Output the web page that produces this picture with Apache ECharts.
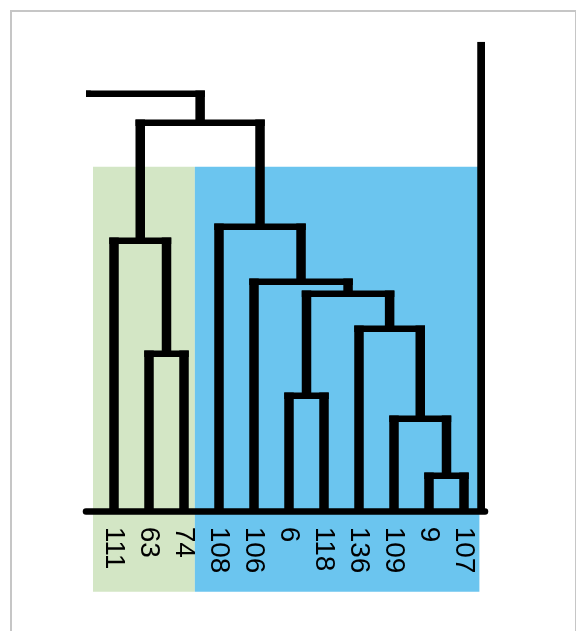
<!DOCTYPE html>
<html>
<head>
<meta charset="utf-8">
<title>Dendrogram</title>
<script src="https://cdn.jsdelivr.net/npm/echarts@6/dist/echarts.min.js"></script>
<style>
  html, body { margin: 0; padding: 0; background: #ffffff; }
  #wrap { position: relative; width: 576px; height: 631px; overflow: hidden; }
  #frame {
    position: absolute; left: 10px; top: 10px; width: 566px; height: 700px;
    border-left: 2px solid #c6c6c6; border-top: 2px solid #c6c6c6; border-right: 1.5px solid #c6c6c6;
    box-sizing: border-box;
  }
  #chart { position: absolute; left: 0; top: 0; width: 576px; height: 631px; }
</style>
</head>
<body>
<div id="wrap">
  <div id="frame"></div>
  <div id="chart"></div>
</div>
<script>
// Leaf labels, left to right
const leaves = ['111', '63', '74', '108', '106', '6', '118', '136', '109', '9', '107'];

// Agglomeration steps: ids 0..10 are leaves, each merge creates id 11, 12, ...
const mergeLeft   = [9,    8,    5,    1,    7,    13,   4,    0,    3,    18];
const mergeRight  = [10,   11,   6,    2,    12,   15,   16,   14,   17,   19];
const mergeHeight = [0.36, 0.93, 1.16, 1.58, 1.83, 2.18, 2.30, 2.71, 2.85, 3.89];

// Root join (its other branch runs off the left edge) and the outer stem on the right
const rootHeight = 4.18;
const stemHeight = 4.7;
const stemPosition = 10.5;

// Shaded cluster bands: [from, to] along the leaf axis; they reach down behind the labels
const bandNames  = ['A', 'B'];
const bandFrom   = [-0.6, 2.31];
const bandTo     = [2.31, 10.44];
const bandColors = ['#d3e6c5', '#6bc5ef'];
const bandTop = 3.45;
const bandBottom = -0.8;

const xMin = -0.8, xMax = 10.6, yMin = 0, yMax = 4.7;

// Positions of every node: leaves on integers, merges centred over their children
const nodeX = leaves.map((_, i) => i);
const nodeH = leaves.map(() => 0);
mergeLeft.forEach((l, k) => {
  const r = mergeRight[k];
  nodeX.push((nodeX[l] + nodeX[r]) / 2);
  nodeH.push(mergeHeight[k]);
});

// Link items: [xLeft, xRight, height, heightLeft, heightRight]
const links = mergeLeft.map((l, k) => {
  const r = mergeRight[k];
  return [nodeX[l], nodeX[r], mergeHeight[k], nodeH[l], nodeH[r]];
});
const lastNode = nodeX.length - 1;
links.push([xMin, nodeX[lastNode], rootHeight, rootHeight, nodeH[lastNode]]);

const VW = 9.5;  // vertical stroke width
const HW = 6.5;  // horizontal stroke width

function renderLink(params, api) {
  const xl = api.value(0), xr = api.value(1), h = api.value(2);
  const hl = api.value(3), hr = api.value(4);
  const pl = api.coord([xl, h]);
  const pr = api.coord([xr, h]);
  const pl0 = api.coord([xl, hl]);
  const pr0 = api.coord([xr, hr]);
  const style = { fill: '#000000' };
  return {
    type: 'group',
    children: [
      { type: 'rect', shape: { x: pl[0] - VW / 2, y: pl[1] - HW / 2, width: pr[0] - pl[0] + VW, height: HW }, style },
      { type: 'rect', shape: { x: pl[0] - VW / 2, y: pl[1] - HW / 2, width: VW, height: pl0[1] - pl[1] + HW / 2 }, style },
      { type: 'rect', shape: { x: pr[0] - VW / 2, y: pr[1] - HW / 2, width: VW, height: pr0[1] - pr[1] + HW / 2 }, style }
    ]
  };
}

function renderBand(params, api) {
  const a = api.coord([api.value(0), bandTop]);
  const b = api.coord([api.value(1), bandBottom]);
  return {
    type: 'rect',
    shape: { x: a[0], y: a[1], width: b[0] - a[0], height: b[1] - a[1] },
    style: { fill: bandColors[params.dataIndex] }
  };
}

function renderStem(params, api) {
  const t = api.coord([api.value(0), api.value(1)]);
  const b = api.coord([api.value(0), 0]);
  return {
    type: 'rect',
    shape: { x: t[0] - 4.25, y: t[1], width: 8.5, height: b[1] - t[1] },
    style: { fill: '#000000' }
  };
}

const chart = echarts.init(document.getElementById('chart'), null, { renderer: 'canvas' });
chart.setOption({
  animation: false,
  grid: { left: 86, right: 91, top: 41.7, bottom: 119.3, outerBoundsMode: 'none' },
  xAxis: {
    type: 'value', min: xMin, max: xMax,
    splitLine: { show: false },
    axisTick: { show: false },
    axisLine: { show: true, lineStyle: { color: '#000000', width: 6.5 } },
    axisLabel: {
      customValues: leaves.map((_, i) => i),
      formatter: v => leaves[Math.round(v)],
      rotate: -90,
      margin: 15,
      padding: [10, 0, 0, 0],
      color: '#000000',
      fontSize: 28,
      fontFamily: 'Liberation Sans, Arial, sans-serif'
    },
    z: 5
  },
  yAxis: { type: 'value', min: yMin, max: yMax, show: false, splitLine: { show: false } },
  series: [
    {
      type: 'custom', name: 'bands', renderItem: renderBand, clip: false, z: 1, silent: true,
      data: bandNames.map((n, i) => [bandFrom[i], bandTo[i]])
    },
    {
      type: 'custom', name: 'links', renderItem: renderLink, clip: true, z: 3, silent: true,
      data: links
    },
    {
      type: 'custom', name: 'stem', renderItem: renderStem, clip: true, z: 3, silent: true,
      data: [[stemPosition, stemHeight]]
    }
  ]
});
</script>
</body>
</html>
